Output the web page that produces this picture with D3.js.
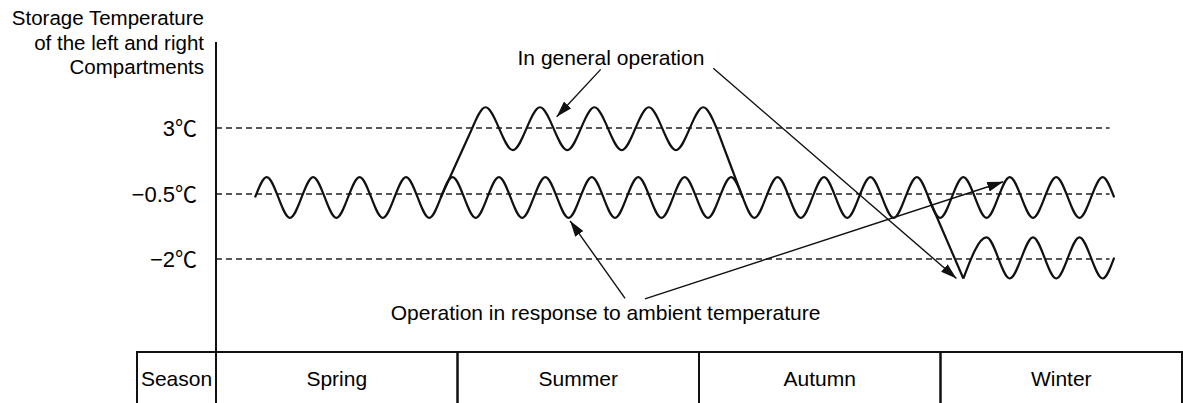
<!DOCTYPE html>
<html>
<head>
<meta charset="utf-8">
<script src="https://cdn.jsdelivr.net/npm/d3@7"></script>
<style>
  body { margin: 0; background: #fff; }
  svg { display: block; }
  text { font-family: "Liberation Sans", Arial, "Noto Sans CJK KR", sans-serif; fill: #000; }
</style>
</head>
<body>
<div id="chart"></div>
<script>
// levels shown on the y axis (schematic, not to scale)
var levels = [3, -0.5, -2];
var levelLabels = ["3℃", "−0.5℃", "−2℃"];
var axisTitle = ["Storage Temperature", "of the left and right", "Compartments"];
var seasons = ["Spring", "Summer", "Autumn", "Winter"];

// operation in response to ambient temperature (week of year, ℃)
var ambientWeeks = [2.10, 2.73, 3.98, 5.23, 6.48, 7.73, 8.98, 10.23, 11.48, 12.73, 13.98,
  15.23, 16.48, 17.73, 18.98, 20.23, 21.48, 22.73, 23.98, 25.23, 26.48, 27.73, 28.98,
  30.23, 31.48, 32.73, 33.98, 35.23, 36.48, 37.73, 38.98, 40.23, 41.48, 42.73, 43.98,
  45.23, 46.48, 47.73, 48.35];
var ambientTemps = [-0.58, 0.4, -1.05, 0.4, -1.05, 0.4, -1.05, 0.4, -1.05, 0.4, -1.05,
  0.4, -1.05, 0.4, -1.05, 0.4, -1.05, 0.4, -1.05, 0.4, -1.05, 0.4, -1.05,
  0.4, -1.05, 0.4, -1.05, 0.4, -1.05, 0.4, -1.05, 0.4, -1.05, 0.4, -1.05,
  0.4, -1.05, 0.4, -0.58];

// general operation in summer (ramp up, hold around 3℃, ramp down)
var summerWeeks = [12.10, 13.78, 14.51, 15.98, 17.44, 18.91, 20.37, 21.84, 23.30, 24.76, 26.23, 26.96, 28.35];
var summerTemps = [-0.58, 2.96, 4.10, 1.83, 4.10, 1.83, 4.10, 1.83, 4.10, 1.83, 4.10, 2.96, -0.58];

// general operation in winter (drop to -2℃)
var winterWeeks = [38.35, 40.23, 41.48, 42.73, 43.98, 45.23, 46.48, 47.73, 48.35];
var winterTemps = [-0.58, -2.45, -1.5, -2.45, -1.5, -2.45, -1.5, -2.45, -1.97];

// annotation arrows [week, ℃]
var arrowFrom = [[20.71, 6.11], [26.77, 6.17], [22.02, -2.91], [23.09, -2.92]];
var arrowTo = [[18.34, 3.60], [39.86, -2.45], [19.06, -1.12], [42.38, 0.15]];
var noteTexts = ["In general operation", "Operation in response to ambient temperature"];
var noteWeeks = [21.26, 20.97];
var noteTemps = [6.34, -3.41];

var width = 1183, height = 403;
var plotLeft = 216, plotRight = 1182, axisTop = 42, tableTop = 352, tableLeft = 137;

var svg = d3.select("#chart").append("svg")
  .attr("width", width)
  .attr("height", height)
  .attr("viewBox", [0, 0, width, height]);

var x = d3.scaleLinear().domain([0, 52]).range([plotLeft, plotRight]);
var y = d3.scaleLinear().domain(levels).range([128, 194, 259]);
var seasonX = d3.scaleBand().domain(seasons).range([plotLeft, plotRight]);

function zip(ws, ts) { return ws.map(function(w, i) { return [w, ts[i]]; }); }

// reference dashed lines
svg.append("g").selectAll("line")
  .data(levels)
  .enter().append("line")
  .attr("x1", plotLeft).attr("x2", x(48.1))
  .attr("y1", function(d) { return y(d); })
  .attr("y2", function(d) { return y(d); })
  .attr("stroke", "#222")
  .attr("stroke-width", 1.5)
  .attr("stroke-dasharray", "6,4");

// y axis line
svg.append("line")
  .attr("x1", plotLeft).attr("x2", plotLeft)
  .attr("y1", axisTop).attr("y2", tableTop)
  .attr("stroke", "#111").attr("stroke-width", 2);

// tick labels
svg.append("g").selectAll("text")
  .data(levels)
  .enter().append("text")
  .attr("x", 197)
  .attr("y", function(d) { return y(d); })
  .attr("dy", "0.36em")
  .attr("text-anchor", "end")
  .style("font-size", "22px")
  .text(function(d, i) { return levelLabels[i]; });

// axis title
svg.append("text")
  .attr("text-anchor", "end")
  .style("font-size", "20.5px")
  .selectAll("tspan")
  .data(axisTitle)
  .enter().append("tspan")
  .attr("x", 204)
  .attr("y", function(d, i) { return 25 + i * 24.5; })
  .text(function(d) { return d; });

var wave = d3.line()
  .x(function(d) { return x(d[0]); })
  .y(function(d) { return y(d[1]); })
  .curve(d3.curveMonotoneX);
var straight = d3.line()
  .x(function(d) { return x(d[0]); })
  .y(function(d) { return y(d[1]); });

var waves = svg.append("g")
  .attr("fill", "none")
  .attr("stroke", "#111")
  .attr("stroke-width", 2.2)
  .attr("stroke-linejoin", "round");

var ambient = zip(ambientWeeks, ambientTemps);
var summer = zip(summerWeeks, summerTemps);
var winter = zip(winterWeeks, winterTemps);

waves.append("path").attr("d", wave(ambient));
waves.append("path").attr("d", straight(summer.slice(0, 2)));
waves.append("path").attr("d", wave(summer.slice(1, summer.length - 1)));
waves.append("path").attr("d", straight(summer.slice(summer.length - 2)));
waves.append("path").attr("d", straight(winter.slice(0, 2)));
waves.append("path").attr("d", wave(winter.slice(1)));

// arrow heads
svg.append("defs").append("marker")
  .attr("id", "head")
  .attr("viewBox", "0 0 16 10")
  .attr("refX", 16).attr("refY", 5)
  .attr("markerWidth", 16).attr("markerHeight", 10)
  .attr("markerUnits", "userSpaceOnUse")
  .attr("orient", "auto")
  .append("path")
  .attr("d", "M0,0L16,5L0,10Z")
  .attr("fill", "#111");

svg.append("g").selectAll("line")
  .data(arrowFrom)
  .enter().append("line")
  .attr("x1", function(d) { return x(d[0]); })
  .attr("y1", function(d) { return y(d[1]); })
  .attr("x2", function(d, i) { return x(arrowTo[i][0]); })
  .attr("y2", function(d, i) { return y(arrowTo[i][1]); })
  .attr("stroke", "#111")
  .attr("stroke-width", 1.4)
  .attr("marker-end", "url(#head)");

svg.append("g").selectAll("text")
  .data(noteTexts)
  .enter().append("text")
  .attr("x", function(d, i) { return x(noteWeeks[i]); })
  .attr("y", function(d, i) { return y(noteTemps[i]); })
  .attr("text-anchor", "middle")
  .style("font-size", "21px")
  .text(function(d) { return d; });

// season table
var table = svg.append("g");
var cells = [{ label: "Season", x0: tableLeft, x1: plotLeft }].concat(seasons.map(function(s) {
  return { label: s, x0: seasonX(s), x1: seasonX(s) + seasonX.bandwidth() };
}));
table.selectAll("rect")
  .data(cells)
  .enter().append("rect")
  .attr("x", function(d) { return d.x0; })
  .attr("y", tableTop)
  .attr("width", function(d) { return d.x1 - d.x0; })
  .attr("height", 60)
  .attr("fill", "none")
  .attr("stroke", "#111")
  .attr("stroke-width", 2);
table.selectAll("text")
  .data(cells)
  .enter().append("text")
  .attr("x", function(d) { return (d.x0 + d.x1) / 2; })
  .attr("y", 386)
  .attr("text-anchor", "middle")
  .style("font-size", "21px")
  .text(function(d) { return d.label; });
</script>
</body>
</html>
